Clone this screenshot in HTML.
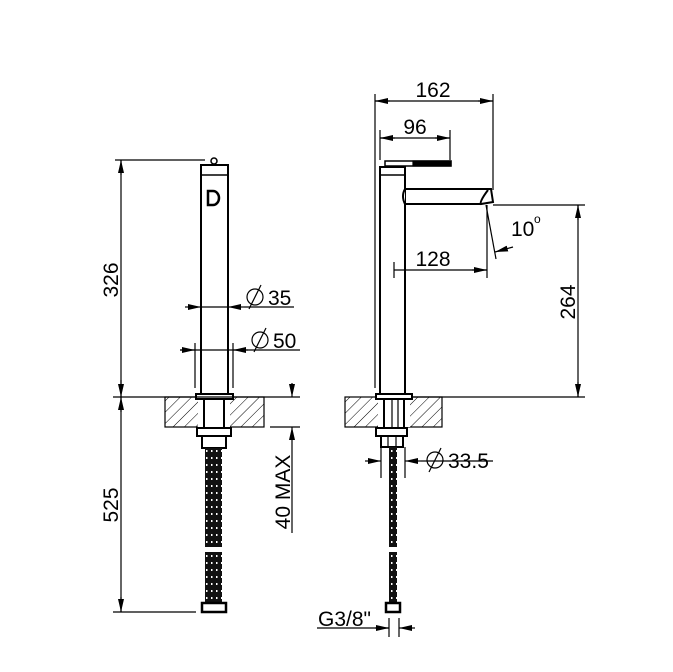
<!DOCTYPE html>
<html><head><meta charset="utf-8"><style>
html,body{margin:0;padding:0;background:#fff}
svg{display:block}
text{font-family:"Liberation Sans",Arial,sans-serif;font-size:21px;fill:#000}
</style></head><body>
<svg width="673" height="672" viewBox="0 0 673 672" xmlns="http://www.w3.org/2000/svg">
<defs>
<pattern id="h" patternUnits="userSpaceOnUse" width="8" height="8" patternTransform="rotate(45)">
<line x1="0" y1="0" x2="0" y2="8" stroke="#000" stroke-width="1"/>
</pattern>
<pattern id="hose" patternUnits="userSpaceOnUse" width="5" height="7">
<rect width="5" height="7" fill="#111"/><rect x="1" y="2" width="1.5" height="2" fill="#fff"/>
</pattern>
<marker id="a" markerWidth="13" markerHeight="6" refX="13" refY="3" orient="auto" markerUnits="userSpaceOnUse">
<path d="M0,0 L13,3 L0,6 z" fill="#000"/></marker>
</defs>
<g stroke="#000" fill="none" stroke-width="1.2">
<!-- LEFT VIEW -->
<rect x="165" y="397" width="99" height="30" fill="url(#h)"/>
<rect x="198" y="399" width="32" height="28" fill="#fff" stroke="none"/>
<line x1="204" y1="399" x2="204" y2="427" stroke-width="2"/><line x1="224" y1="399" x2="224" y2="427" stroke-width="2"/>
<rect x="201" y="165" width="27" height="230" fill="#fff" stroke-width="2"/>
<line x1="201" y1="175" x2="228" y2="175" stroke-width="1.5"/>
<circle cx="214" cy="161" r="3" stroke-width="1.5"/>
<path d="M208,191 h5 a6,7 0 0 1 0,14 h-5 z" stroke-width="2.5"/>
<rect x="196" y="394" width="37" height="5" fill="#fff" stroke-width="2"/>
<rect x="197" y="428" width="34" height="8" stroke-width="2"/>
<rect x="202" y="436" width="24" height="12" stroke-width="2"/>
<rect x="205" y="448" width="17" height="99" fill="url(#hose)" stroke="none"/>
<rect x="205" y="552" width="17" height="52" fill="url(#hose)" stroke="none"/>
<rect x="202" y="603" width="24" height="9" stroke-width="2.5"/>
<!-- 326 / 525 -->
<line x1="115" y1="160" x2="205" y2="160"/>
<line x1="113" y1="397" x2="300" y2="397"/>
<line x1="113" y1="612" x2="196" y2="612"/>
<line x1="121" y1="160" x2="121" y2="612"/>
<line x1="121" y1="175" x2="121" y2="160" marker-end="url(#a)"/>
<line x1="121" y1="380" x2="121" y2="397" marker-end="url(#a)"/>
<line x1="121" y1="412" x2="121" y2="397" marker-end="url(#a)"/>
<line x1="121" y1="597" x2="121" y2="612" marker-end="url(#a)"/>
<!-- Ø35 -->
<line x1="185" y1="307" x2="201" y2="307" marker-end="url(#a)"/>
<line x1="201" y1="307" x2="228" y2="307"/>
<line x1="244" y1="307" x2="228" y2="307" marker-end="url(#a)"/>
<line x1="244" y1="307" x2="294" y2="307"/>
<!-- Ø50 -->
<line x1="195" y1="343" x2="195" y2="388"/><line x1="233" y1="343" x2="233" y2="388"/>
<line x1="180" y1="350" x2="300" y2="350"/>
<line x1="180" y1="350" x2="195" y2="350" marker-end="url(#a)"/>
<line x1="248" y1="350" x2="233" y2="350" marker-end="url(#a)"/>
<!-- 40 MAX -->
<line x1="270" y1="427" x2="300" y2="427"/>
<line x1="292" y1="383" x2="292" y2="397" marker-end="url(#a)"/>
<line x1="292" y1="533" x2="292" y2="427" marker-end="url(#a)"/>
<!-- RIGHT VIEW -->
<rect x="345" y="397" width="97" height="30" fill="url(#h)"/>
<rect x="378" y="399" width="32" height="28" fill="#fff" stroke="none"/>
<line x1="384" y1="399" x2="384" y2="427" stroke-width="2"/><line x1="392" y1="399" x2="392" y2="427"/><line x1="398" y1="399" x2="398" y2="427"/><line x1="404" y1="399" x2="404" y2="427" stroke-width="2"/>
<rect x="380" y="167" width="25" height="228" fill="#fff" stroke-width="2"/>
<line x1="380" y1="175" x2="405" y2="175" stroke-width="1.5"/>
<rect x="385" y="161" width="66" height="5" fill="#fff" stroke-width="1.5"/>
<rect x="413" y="161" width="38" height="5" fill="#000"/>
<path d="M405,189 H491 L493,202 L481,204 Q479,202 488,190 M405,204 H481 M405,189 Q401,196 405,204" stroke-width="2" fill="#fff"/>
<rect x="376" y="394" width="36" height="5" fill="#fff" stroke-width="2"/>
<rect x="376" y="428" width="31" height="8" stroke-width="2"/>
<rect x="381" y="436" width="22" height="11" stroke-width="2"/>
<line x1="388" y1="436" x2="388" y2="447"/><line x1="396" y1="436" x2="396" y2="447"/>
<rect x="389" y="447" width="8" height="100" fill="url(#hose)" stroke="none"/>
<rect x="389" y="552" width="8" height="52" fill="url(#hose)" stroke="none"/>
<rect x="386" y="603" width="14" height="9" stroke-width="2.5"/>
<!-- 162 -->
<line x1="375" y1="94" x2="375" y2="388"/>
<line x1="493" y1="94" x2="493" y2="190"/>
<line x1="375" y1="101" x2="493" y2="101"/>
<line x1="390" y1="101" x2="375" y2="101" marker-end="url(#a)"/>
<line x1="478" y1="101" x2="493" y2="101" marker-end="url(#a)"/>
<!-- 96 -->
<line x1="380" y1="130" x2="380" y2="160"/>
<line x1="450" y1="130" x2="450" y2="160"/>
<line x1="380" y1="138" x2="450" y2="138"/>
<line x1="395" y1="138" x2="380" y2="138" marker-end="url(#a)"/>
<line x1="435" y1="138" x2="450" y2="138" marker-end="url(#a)"/>
<!-- 128 -->
<line x1="394" y1="262" x2="394" y2="278"/>
<line x1="487" y1="205" x2="487" y2="278"/>
<line x1="394" y1="270" x2="487" y2="270"/>
<line x1="472" y1="270" x2="487" y2="270" marker-end="url(#a)"/>
<!-- 10° -->
<line x1="486" y1="205" x2="496" y2="259"/>
<line x1="513" y1="247" x2="495" y2="252" marker-end="url(#a)"/>
<!-- 264 -->
<line x1="493" y1="205" x2="585" y2="205"/>
<line x1="412" y1="397" x2="585" y2="397"/>
<line x1="578" y1="205" x2="578" y2="397"/>
<line x1="578" y1="220" x2="578" y2="205" marker-end="url(#a)"/>
<line x1="578" y1="382" x2="578" y2="397" marker-end="url(#a)"/>
<!-- Ø33.5 -->
<line x1="381" y1="447" x2="381" y2="478"/><line x1="405" y1="447" x2="405" y2="478"/>
<line x1="365" y1="461" x2="381" y2="461" marker-end="url(#a)"/>
<line x1="421" y1="461" x2="405" y2="461" marker-end="url(#a)"/>
<line x1="421" y1="461" x2="493" y2="461"/>
<!-- G3/8 -->
<line x1="389" y1="618" x2="389" y2="637"/><line x1="399" y1="618" x2="399" y2="637"/>
<line x1="317" y1="628" x2="389" y2="628"/>
<line x1="375" y1="628" x2="389" y2="628" marker-end="url(#a)"/>
<line x1="415" y1="628" x2="399" y2="628" marker-end="url(#a)"/>
<!-- diameter symbols -->
<circle cx="255" cy="297" r="8"/><line x1="249" y1="309" x2="261" y2="285"/>
<circle cx="260" cy="340" r="8"/><line x1="254" y1="352" x2="266" y2="328"/>
<circle cx="435" cy="460" r="8"/><line x1="429" y1="472" x2="441" y2="448"/>
</g>
<text x="111" y="280" text-anchor="middle" transform="rotate(-90 111 280)" dy="7">326</text>
<text x="111" y="505" text-anchor="middle" transform="rotate(-90 111 505)" dy="7">525</text>
<text x="283" y="492" text-anchor="middle" transform="rotate(-90 283 492)" dy="7">40 MAX</text>
<text x="568" y="302" text-anchor="middle" transform="rotate(-90 568 302)" dy="7">264</text>
<text x="268" y="305">35</text>
<text x="273" y="348">50</text>
<text x="433" y="97" text-anchor="middle">162</text>
<text x="415" y="134" text-anchor="middle">96</text>
<text x="433" y="266" text-anchor="middle">128</text>
<text x="511" y="236">10</text><text x="534" y="223" style="font-size:12px">o</text>
<text x="448" y="468">33.5</text>
<text x="318" y="626">G3/8"</text>
</svg>
</body></html>
